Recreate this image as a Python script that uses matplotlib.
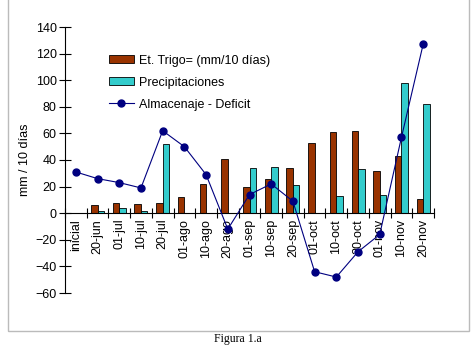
import numpy as np
import matplotlib.pyplot as plt
from matplotlib.patches import Rectangle

plt.rcParams['font.family'] = ['Liberation Sans', 'DejaVu Sans']

# Datos
fechas = ['inicial', '20-jun', '01-jul', '10-jul', '20-jul', '01-ago', '10-ago',
          '20-ago', '01-sep', '10-sep', '20-sep', '01-oct', '10-oct', '20-oct',
          '01-nov', '10-nov', '20-nov']
et_trigo = [0, 6, 8, 7, 8, 12, 22, 41, 20, 26, 34, 53, 61, 62, 32, 43, 11]
precipitaciones = [0, 1.5, 4, 2, 52, 0, 0.5, 0, 34, 35, 21, 0, 13, 33, 14, 98, 82]
almacenaje = [31, 26, 23, 19, 62, 50, 29, -12, 14, 22, 9, -44, -48, -29, -16, 57, 127]

x = np.arange(len(fechas))
ancho = 0.3

fig = plt.figure(figsize=(4.75, 3.59), dpi=100)
ax = fig.add_axes([65 / 475, 1 - 293 / 359, 369 / 475, 266 / 359])

# Barras y linea
b1 = ax.bar(x - ancho / 2, et_trigo, ancho, color='#993300', edgecolor='black',
            linewidth=0.6, label='Et. Trigo= (mm/10 días)', zorder=2)
b2 = ax.bar(x + ancho / 2, precipitaciones, ancho, color='#33CCCC', edgecolor='black',
            linewidth=0.6, label='Precipitaciones', zorder=2)
l1, = ax.plot(x, almacenaje, color='#000080', linewidth=0.8, marker='o',
              markersize=5, label='Almacenaje - Deficit', zorder=3)

# Ejes
ax.set_xlim(-0.5, len(fechas) - 0.5)
ax.set_ylim(-60, 140)
ax.set_yticks(range(-60, 141, 20))
ax.spines['top'].set_visible(False)
ax.spines['right'].set_visible(False)
ax.spines['bottom'].set_position(('data', 0))
ax.spines['left'].set_linewidth(0.8)
ax.spines['bottom'].set_linewidth(0.8)

ax.set_xticks(x)
ax.set_xticklabels(fechas, rotation=90, fontsize=9)
ax.set_xticks(np.arange(-0.5, len(fechas), 1), minor=True)
ax.tick_params(axis='x', which='major', length=0, pad=4)
ax.tick_params(axis='x', which='minor', direction='inout', length=7, width=0.8)
ax.tick_params(axis='y', direction='inout', length=8, width=0.8, labelsize=9, pad=2)

ax.set_ylabel('mm / 10 días', fontsize=9)
ax.yaxis.set_label_coords(-0.092, 0.5)

ax.legend([b1, b2, l1], [b1.get_label(), b2.get_label(), l1.get_label()],
          loc='upper left', bbox_to_anchor=(0.105, 0.915), frameon=False,
          fontsize=9, handlelength=2.0, handleheight=0.6, labelspacing=0.8,
          handletextpad=0.4, borderaxespad=0)

# Marco y pie de figura
fig.patches.append(Rectangle((8 / 475, 1 - 331 / 359), 461 / 475, 331 / 359 + 0.05,
                             transform=fig.transFigure, fill=False,
                             edgecolor='#bbbbbb', linewidth=1))
fig.text(238 / 475, 1 - 339 / 359, 'Figura 1.a', ha='center', va='center',
         fontsize=8.5, family='Liberation Serif')

fig.savefig('out.png', dpi=100)
